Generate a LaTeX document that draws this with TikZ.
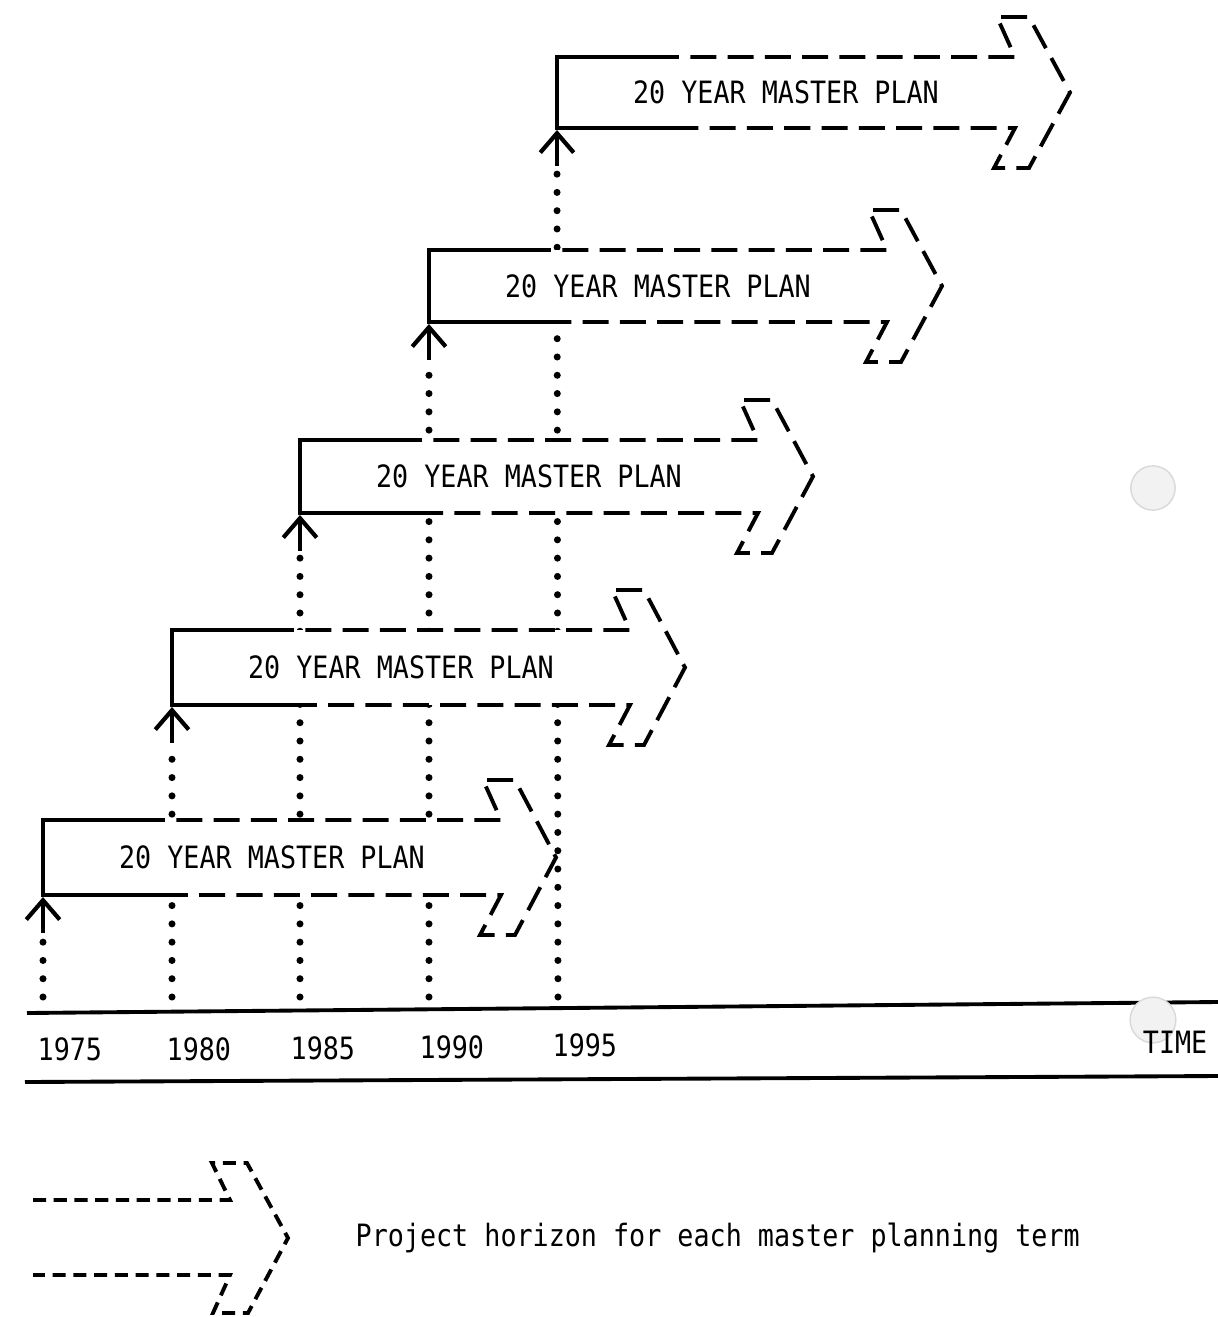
\documentclass[tikz,border=0pt]{standalone}
\usepackage{fontspec}
\usepackage{graphicx}
\newfontfamily\plotfont{DejaVu Sans Mono}
\usetikzlibrary{arrows.meta,calc}
\newcommand{\tall}[1]{\scalebox{1}[1.15]{#1}}
\newcommand{\planarrow}[4]{% #1 name, #2 left x, #3 top y, #4 bottom y
  \begin{scope}[shift={(#2,#3)}]
    \pgfmathsetmacro\hh{#4-#3}
    \pgfmathsetmacro\mm{(#4-#3)/2}
    \pgfmathsetmacro\bb{#4-#3+40}
    \fill[white] (0,0) rectangle (458,\hh);
    \draw[solidedge] (122,0) -- (0,0) -- (0,\hh) -- (122,\hh);
    \draw[dashedge] (122,0) -- (458,0) -- (440,-40) -- (472,-40) -- (513,\mm)
      -- (472,\bb) -- (437,\bb) -- (458,\hh) -- (122,\hh);
    \node[plantext] (#1) at (229,\mm) {\tall{20 YEAR MASTER PLAN}};
  \end{scope}}
\tikzset{
  solidedge/.style={line width=1.1pt, line join=miter},
  dashedge/.style={line width=1.1pt, dash pattern=on 7.4pt off 3.2pt, dash phase=7.4pt},
  legenddash/.style={line width=1.1pt, dash pattern=on 3.7pt off 2.2pt},
  dotline/.style={line width=2pt, line cap=round, dash pattern=on 0pt off 5.2pt},
  stem/.style={line width=1.2pt, -{Straight Barb[length=5.5pt,width=9.5pt,line width=1.2pt]}},
  plantext/.style={font=\plotfont\fontsize{7.6}{9}\selectfont, inner sep=0pt},
  timeline/.style={line width=1.1pt},
  punch/.style={fill=gray!10, draw=gray!30, line width=0.4pt},
}
\begin{document}
\begin{tikzpicture}[x=0.01cm, y=-0.01cm]
\useasboundingbox (0,0) rectangle (1218,1317);
\fill[white] (0,0) rectangle (1218,1317);

% hole punches of the scanned sheet
\path[punch] (1153,488) circle[radius=6.3pt];

% time axis
\coordinate (tl0) at (27,1013);
\coordinate (tl1) at (1218,1002);
\coordinate (tb0) at (25,1082);
\coordinate (tb1) at (1218,1076);
\draw[timeline] (tl0) -- (tl1);
\draw[timeline] (tb0) -- (tb1);
\path[punch] (1153,1020) circle[radius=6.5pt];

% axis points and arrow bottoms
\coordinate (y1975) at (43,997);
\coordinate (y1980) at (172,997);
\coordinate (y1985) at (300,997);
\coordinate (y1990) at (429,997);
\coordinate (y1995) at (558,997);
\coordinate (b1) at (43,897);
\coordinate (b2) at (172,707);
\coordinate (b3) at (300,515);
\coordinate (b4) at (429,324);
\coordinate (b5) at (557,130);
\coordinate (s1) at (43,933);
\coordinate (s2) at (172,743);
\coordinate (s3) at (300,551);
\coordinate (s4) at (429,360);
\coordinate (s5) at (557,166);

% dotted verticals
\draw[dotline] (y1975) -- (s1);
\draw[dotline] (y1980) -- (s2);
\draw[dotline] (y1985) -- (s3);
\draw[dotline] (y1990) -- (s4);
\draw[dotline] (y1995) -- (s5);

% master plan arrows
\planarrow{p1}{43}{820}{895}
\planarrow{p2}{172}{630}{705}
\planarrow{p3}{300}{440}{513}
\planarrow{p4}{429}{250}{322}
\planarrow{p5}{557}{57}{128}

% arrow stems
\draw[stem] (s1) -- (b1);
\draw[stem] (s2) -- (b2);
\draw[stem] (s3) -- (b3);
\draw[stem] (s4) -- (b4);
\draw[stem] (s5) -- (b5);

% year labels
\node[plantext, anchor=west] (l1975) at (37,1049) {\tall{1975}};
\node[plantext, anchor=west] (l1980) at (166,1049) {\tall{1980}};
\node[plantext, anchor=west] (l1985) at (290,1048) {\tall{1985}};
\node[plantext, anchor=west] (l1990) at (419,1047) {\tall{1990}};
\node[plantext, anchor=west] (l1995) at (552,1045) {\tall{1995}};
\node[plantext, anchor=east] (ltime) at (1208,1042) {\tall{TIME}};

% legend
\coordinate (lg0) at (33,1200);
\coordinate (lg1) at (33,1275);
\draw[legenddash] (lg0) -- (230,1200) -- (212,1163) -- (247,1163) -- (288,1238)
  -- (248,1313) -- (213,1313) -- (230,1275) -- (lg1);
\node[plantext, anchor=west] (legend) at (355,1238) {\tall{Project horizon for each master planning term}};
\end{tikzpicture}
\end{document}
